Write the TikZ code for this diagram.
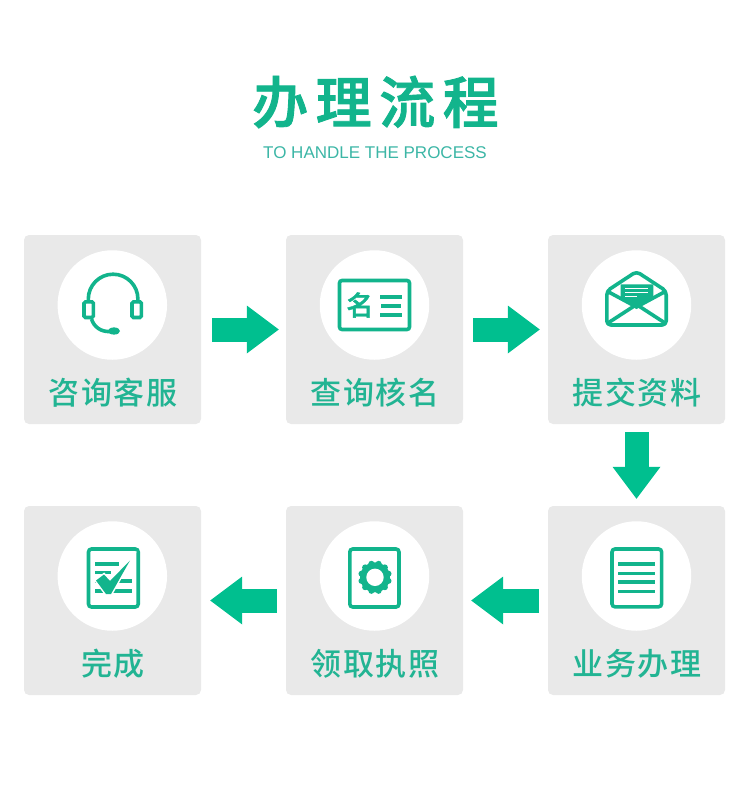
\documentclass[tikz,border=0pt]{standalone}
\usepackage{fontspec}
\usetikzlibrary{arrows.meta}
\newfontfamily\cardfont[LetterSpace=6]{Noto Sans CJK SC Medium}
\newfontfamily\titlefont[LetterSpace=13.4,FakeBold=1.6]{Noto Sans CJK SC Medium}
\newfontfamily\namefont[FakeBold=1.5]{Noto Sans CJK SC Medium}
\setmainfont{Liberation Sans}
\definecolor{bandgreen}{HTML}{00BF8F}
\definecolor{inkgreen}{HTML}{12B48C}
\definecolor{textgreen}{HTML}{22B493}
\definecolor{subgreen}{HTML}{3CB6A6}
\definecolor{cardgray}{HTML}{E9E9E9}
\tikzset{
  stepcard/.style={fill=cardgray,rounded corners=5pt,minimum width=177pt,minimum height=189pt,inner sep=0pt},
  stepdisc/.style={circle,fill=white,minimum size=109.5pt,inner sep=0pt},
  steplabel/.style={text=textgreen,inner sep=0pt,font=\cardfont\fontsize{31}{36}\selectfont},
  iconline/.style={draw=inkgreen,line width=3.6pt},
  iconfill/.style={fill=inkgreen},
  flowarrow/.style={draw=bandgreen,line width=24pt,-{Triangle[length=32pt,width=48pt,line width=0pt]}}
}
\begin{document}
\begin{tikzpicture}[x=1pt,y=-1pt]
  \useasboundingbox (0,0) rectangle (750,788);
  \node[text=inkgreen,inner sep=0pt,font=\titlefont\fontsize{56}{64}\selectfont] (title) at (375.5,102) {办理流程};
  \node[text=subgreen,inner sep=0pt,font=\fontsize{17}{20}\selectfont] (subtitle) at (375,153) {TO HANDLE THE PROCESS};

  \node[stepcard] (consult) at (112.5,329.5) {};
  \node[stepcard] (verify) at (374.5,329.5) {};
  \node[stepcard] (submit) at (636.5,329.5) {};
  \node[stepcard] (process) at (636.5,600.5) {};
  \node[stepcard] (collect) at (374.5,600.5) {};
  \node[stepcard] (finish) at (112.5,600.5) {};

  \node[stepdisc] (consultdisc) at (112.3,305) {};
  \node[stepdisc] (verifydisc) at (374.5,305) {};
  \node[stepdisc] (submitdisc) at (636.5,305) {};
  \node[stepdisc] (processdisc) at (636.5,576) {};
  \node[stepdisc] (collectdisc) at (374.5,576) {};
  \node[stepdisc] (finishdisc) at (112.3,576) {};

  \node[steplabel] (consulttext) at (113,392.5) {咨询客服};
  \node[steplabel] (verifytext) at (375,392.5) {查询核名};
  \node[steplabel] (submittext) at (637,392.5) {提交资料};
  \node[steplabel] (processtext) at (637,664) {业务办理};
  \node[steplabel] (collecttext) at (375,664) {领取执照};
  \node[steplabel] (finishtext) at (113,664) {完成};

  \draw[flowarrow,shorten <=11pt,shorten >=7pt] (consult) -- (verify);
  \draw[flowarrow,shorten <=10pt,shorten >=8pt] (verify) -- (submit);
  \draw[flowarrow,shorten <=8pt,shorten >=7pt] (submit) -- (process);
  \draw[flowarrow,shorten <=9pt,shorten >=8pt] (process) -- (collect);
  \draw[flowarrow,shorten <=9pt,shorten >=9pt] (collect) -- (finish);

  \draw[iconline] (88.3,301) -- (88.3,299) arc[start angle=180,end angle=0,radius=24.8pt] -- (137.9,301);
  \draw[iconline,rounded corners=1.5pt] (84,301.8) rectangle (93.4,317.5);
  \draw[iconline,rounded corners=1.5pt] (132,301.8) rectangle (141.4,317.5);
  \draw[iconline] (91.5,319) .. controls (94,327) and (101,332) .. (110,331.5);
  \fill[iconfill] (114,331) ellipse[x radius=6pt,y radius=3.6pt];

  \draw[iconline,rounded corners=2.5pt] (339.5,280.5) rectangle (409.5,329.5);
  \node[text=inkgreen,inner sep=0pt,font=\namefont\fontsize{27}{30}\selectfont] (cardname) at (360,305) {名};
  \draw[iconline] (380,296.7) -- (402,296.7);
  \draw[iconline] (381,306) -- (401,306);
  \draw[iconline] (380,315) -- (402,315);

  \draw[iconline,line join=round,rounded corners=4pt] (606.8,291) -- (636.5,271.5) -- (666.2,291) -- (666.2,325) -- (606.8,325) -- cycle;
  \fill[iconfill] (620.7,284.3) -- (653.3,284.3) -- (653.3,298) -- (636.5,307) -- (620.7,298) -- cycle;
  \draw[iconline] (606.8,291) -- (636.5,307) -- (666.2,291);
  \draw[iconline] (608,323) -- (636.5,304.5) -- (665,323);
  \draw[white,line width=1pt] (625,288.3) -- (648,288.3);
  \draw[white,line width=1pt] (625,292.3) -- (648,292.3);
  \draw[white,line width=1pt] (625,296) -- (637,296);

  \draw[iconline,rounded corners=3pt] (612,549) rectangle (661.6,606.8);
  \draw[iconline] (618.3,563.7) -- (655,563.7);
  \draw[iconline] (618.3,573.3) -- (655,573.3);
  \draw[iconline] (618.3,581.7) -- (655,581.7);
  \draw[iconline] (618.3,591.3) -- (655,591.3);

  \draw[iconline,rounded corners=3pt] (349.8,549) rectangle (399,607);
  \foreach \a in {0,30,...,330}
    \fill[iconfill] (375,577.3) ++(\a+15:14pt) circle (3pt);
  \fill[iconfill] (375,577.3) circle (15pt);
  \fill[white] (375,577.3) circle (8.7pt);

  \draw[iconline,rounded corners=3pt] (88.5,549) rectangle (138.2,607);
  \draw[iconline] (95,563.7) -- (118.7,563.7);
  \draw[iconline] (95,572.3) -- (111,572.3);
  \draw[iconline] (95,581) -- (132,581);
  \draw[iconline] (95,590.7) -- (132,590.7);
  \fill[iconfill,preaction={draw=white,line width=3pt}] (96,580.5) -- (104,574.5) -- (110,581) -- (130,560.5) -- (111,594) -- (106,594) -- cycle;
\end{tikzpicture}
\end{document}
